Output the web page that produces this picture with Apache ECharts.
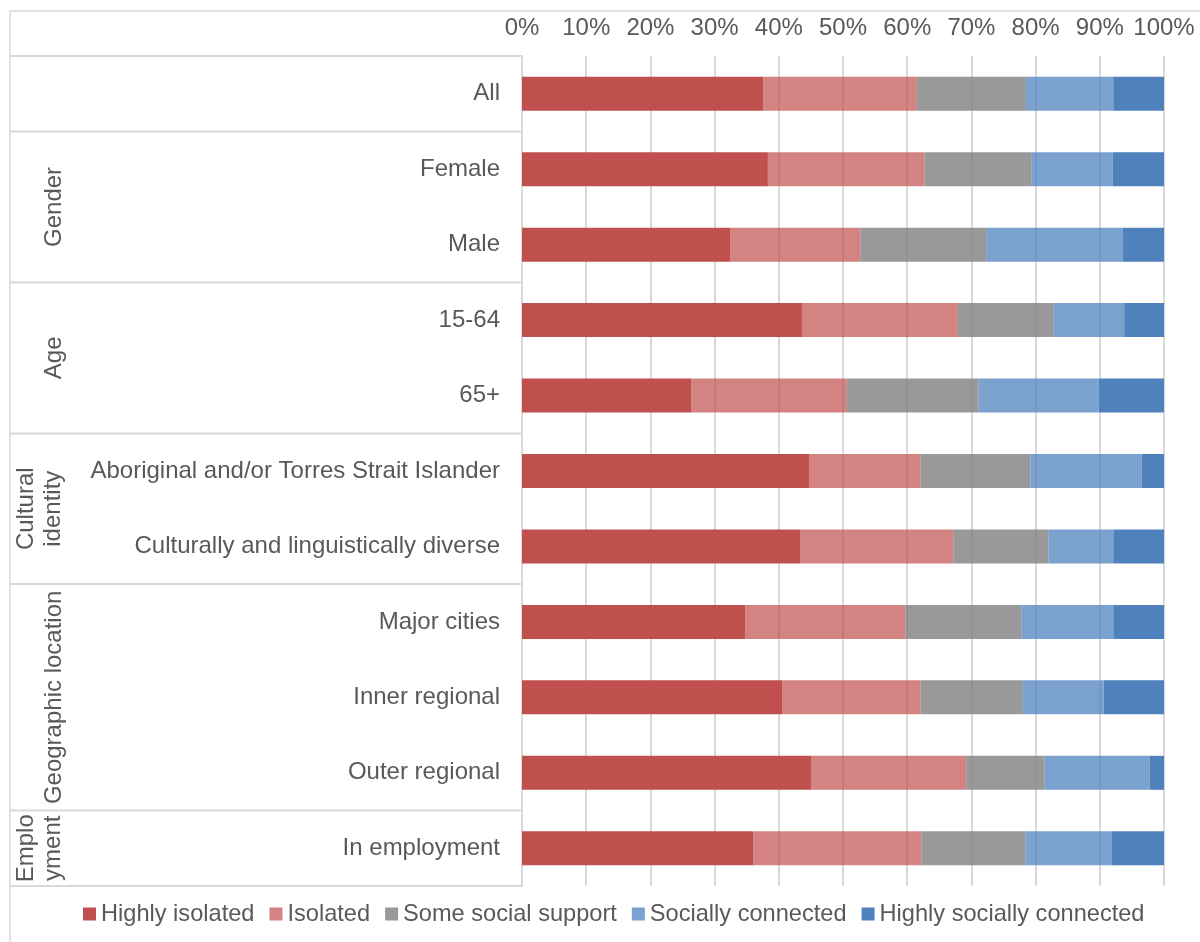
<!DOCTYPE html>
<html>
<head>
<meta charset="utf-8">
<script src="https://cdn.jsdelivr.net/npm/echarts@6/dist/echarts.min.js"></script>
<style>
  html, body { margin: 0; padding: 0; background: #fff; }
  #chart { width: 1200px; height: 942px; }
</style>
</head>
<body>
<div id="chart"></div>
<script>
// ---- Data ----
const categories = ['All', 'Female', 'Male', '15-64', '65+',
  'Aboriginal and/or Torres Strait Islander', 'Culturally and linguistically diverse',
  'Major cities', 'Inner regional', 'Outer regional', 'In employment'];
const groupNames = ['', 'Gender', 'Age', 'Cultural\nidentity', 'Geographic location', 'Emplo\nyment'];
const groupStart = [0, 1, 3, 5, 7, 10];
const groupEnd   = [0, 2, 4, 6, 9, 10];
const seriesNames = ['Highly isolated', 'Isolated', 'Some social support', 'Socially connected', 'Highly socially connected'];
const highlyIsolated    = [37.6, 38.3, 32.4, 43.6, 26.4, 44.7, 43.3, 34.8, 40.5, 45.1, 36.0];
const isolated          = [23.9, 24.4, 20.3, 24.3, 24.2, 17.4, 23.9, 24.9, 21.6, 24.1, 26.2];
const someSupport       = [17.0, 16.7, 19.7, 14.9, 20.5, 17.1, 14.8, 18.1, 15.9, 12.2, 16.2];
const sociallyConnected = [13.6, 12.6, 21.2, 11.0, 18.7, 17.3, 10.1, 14.3, 12.6, 16.4, 13.5];
const highlyConnected   = [7.9, 8.0, 6.4, 6.2, 10.2, 3.5, 7.9, 7.9, 9.4, 2.2, 8.1];
const tickValues = [0, 10, 20, 30, 40, 50, 60, 70, 80, 90, 100];

// ---- Style ----
const colors = ['#C0504D', 'rgba(192,80,77,0.7)', 'rgba(127,127,127,0.8)', 'rgba(79,129,189,0.75)', '#4F81BD'];
const txt = '#595959';
const lineC = '#d9d9d9';
const FONT = '"Liberation Sans", Arial, sans-serif';
const FS = 24;

const chart = echarts.init(document.getElementById('chart'), null, { renderer: 'canvas' });
const allValues = [highlyIsolated, isolated, someSupport, sociallyConnected, highlyConnected];

chart.setOption({
  animation: false,
  textStyle: { fontFamily: FONT },
  grid: { left: 522, right: 36, top: 56, bottom: 56, containLabel: false },
  legend: {
    data: seriesNames,
    left: 78, top: 897,
    icon: 'rect', itemWidth: 13, itemHeight: 13, itemGap: 15,
    textStyle: { color: txt, fontSize: 23.6, fontFamily: FONT }
  },
  xAxis: {
    type: 'value', position: 'top', min: 0, max: 100, interval: 10,
    axisLine: { show: false }, axisTick: { show: false },
    axisLabel: { formatter: v => tickValues.indexOf(v) >= 0 ? v + '%' : '', color: txt, fontSize: FS, margin: 16, fontFamily: FONT },
    splitLine: { show: true, lineStyle: { color: lineC, width: 2 } }
  },
  yAxis: {
    type: 'category', data: categories, inverse: true,
    axisLine: { show: true, lineStyle: { color: lineC, width: 2 } },
    axisTick: { show: false },
    axisLabel: { color: txt, fontSize: FS, margin: 22, fontFamily: FONT }
  },
  series: seriesNames.map((n, i) => ({
    name: n, type: 'bar', stack: 'total', barWidth: 34,
    data: allValues[i],
    itemStyle: { color: colors[i] },
    emphasis: { disabled: true }
  }))
});

// ---- Group table lines and labels via axis scale ----
const c0 = chart.convertToPixel({ yAxisIndex: 0 }, categories[0]);
const c1 = chart.convertToPixel({ yAxisIndex: 0 }, categories[1]);
const band = c1 - c0;
const axisX = chart.convertToPixel({ xAxisIndex: 0 }, 0);
const graphics = [];
graphics.push({ type: 'rect', shape: { x: 10, y: 11, width: 1200, height: 960 }, style: { fill: 'none', stroke: lineC, lineWidth: 1.5 }, silent: true });
const bounds = new Set();
groupStart.forEach((s, g) => {
  const yTop = chart.convertToPixel({ yAxisIndex: 0 }, categories[s]) - band / 2;
  const yBot = chart.convertToPixel({ yAxisIndex: 0 }, categories[groupEnd[g]]) + band / 2;
  bounds.add(Math.round(yTop * 2) / 2); bounds.add(Math.round(yBot * 2) / 2);
  if (groupNames[g]) {
    const twoLine = groupNames[g].indexOf('\n') >= 0;
    graphics.push({
      type: 'text', x: twoLine ? 40 : 54, y: (yTop + yBot) / 2, rotation: Math.PI / 2,
      style: { text: groupNames[g], fill: txt, font: FS + 'px ' + FONT, align: 'center', verticalAlign: 'middle', lineHeight: 27 },
      silent: true
    });
  }
});
bounds.forEach(y => {
  graphics.push({ type: 'line', shape: { x1: 10, y1: y, x2: axisX, y2: y }, style: { stroke: lineC, lineWidth: 2 }, silent: true });
});
chart.setOption({ graphic: graphics });
</script>
</body>
</html>
